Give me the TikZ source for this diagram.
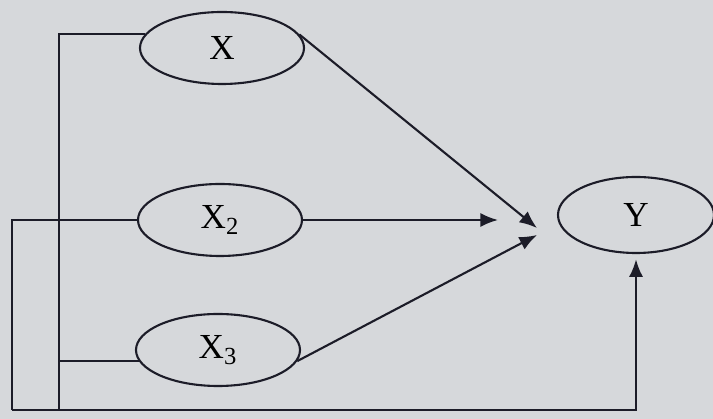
\documentclass[tikz,border=0pt]{standalone}
\usepackage{fontspec}
\setmainfont{Liberation Serif}
\usepackage{tikz}
\usetikzlibrary{shapes.geometric,arrows.meta}
\definecolor{paper}{RGB}{214,216,219}
\definecolor{ink}{RGB}{28,28,40}

\begin{document}
\begin{tikzpicture}[
  var/.style={draw=ink,line width=1.2pt,ellipse,minimum width=3.28cm,minimum height=1.44cm,font=\fontsize{20}{22}\selectfont},
  arr/.style={-{Latex[length=10pt,width=8pt]}}]
\fill[paper] (0,0) rectangle (14.26,8.38);
\useasboundingbox (0,0) rectangle (14.26,8.38);
\node[var] (x) at (4.44,7.42) {X};
\node[var] (x2) at (4.40,3.98) {X\textsubscript{2}};
\node[var] (x3) at (4.36,1.38) {X\textsubscript{3}};
\node[var,minimum width=3.12cm,minimum height=1.52cm] (y) at (12.72,4.08) {Y};
\coordinate (m1) at (10.74,3.82);
\coordinate (m2) at (9.96,3.98);
\coordinate (m3) at (10.74,3.68);
\coordinate (a) at (1.18,0.18);
\coordinate (b) at (0.24,0.18);
\draw[line width=1.2pt,ink,arr] (x.10) -- (m1);
\draw[line width=1.2pt,ink,arr] (x2.east) -- (m2);
\draw[line width=1.2pt,ink,arr] (x3.-8) -- (m3);
\draw[line width=1.2pt,ink] (x.170) -| (a);
\draw[line width=1.2pt,ink] (x3.188) -| (a);
\draw[line width=1.2pt,ink] (x2.west) -| (b);
\draw[line width=1.2pt,ink,arr,shorten >=3pt] (b) -| (y.south);
\end{tikzpicture}
\end{document}
